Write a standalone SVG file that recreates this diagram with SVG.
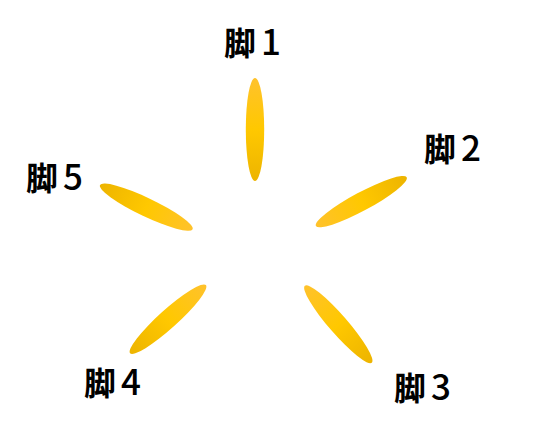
<svg xmlns="http://www.w3.org/2000/svg" width="533" height="435" viewBox="0 0 533 435">
<style>
.lbl{font-family:"Noto Sans CJK JP","Noto Sans CJK SC",sans-serif;font-weight:700;font-size:32px;fill:#000}
.num{font-weight:500;font-size:35px}
</style>
<defs>
<linearGradient id="gLight" gradientUnits="objectBoundingBox" x1="0" y1="0" x2="0" y2="1">
<stop offset="0" stop-color="#ffc22c"/><stop offset="0.5" stop-color="#ffc800"/><stop offset="1" stop-color="#edb400"/>
</linearGradient>
<linearGradient id="gDark" gradientUnits="objectBoundingBox" x1="0" y1="0" x2="0" y2="1">
<stop offset="0" stop-color="#edb400"/><stop offset="0.5" stop-color="#ffc800"/><stop offset="1" stop-color="#ffc22c"/>
</linearGradient>
</defs>
<rect width="533" height="435" fill="#fff"/>
<g id="leg1"><ellipse cx="255" cy="129.5" rx="9.2" ry="51.5" fill="url(#gLight)"/><text class="lbl" x="224" y="55">脚<tspan class="num" dx="5">1</tspan></text></g>
<g id="leg2"><ellipse cx="361.3" cy="201.7" rx="9.2" ry="51.5" fill="url(#gDark)" transform="rotate(61.8 361.3 201.7)"/><text class="lbl" x="424" y="161">脚<tspan class="num" dx="5">2</tspan></text></g>
<g id="leg3"><ellipse cx="338.3" cy="324.3" rx="9.2" ry="51" fill="url(#gDark)" transform="rotate(139 338.3 324.3)"/><text class="lbl" x="394" y="400">脚<tspan class="num" dx="5">3</tspan></text></g>
<g id="leg4"><ellipse cx="168" cy="319.2" rx="9.2" ry="51" fill="url(#gDark)" transform="rotate(228 168 319.2)"/><text class="lbl" x="84" y="395">脚<tspan class="num" dx="5">4</tspan></text></g>
<g id="leg5"><ellipse cx="146.3" cy="207.2" rx="9.2" ry="51.3" fill="url(#gDark)" transform="rotate(-64.5 146.3 207.2)"/><text class="lbl" x="26" y="190">脚<tspan class="num" dx="5">5</tspan></text></g>
<g id="connectors"/>
</svg>
